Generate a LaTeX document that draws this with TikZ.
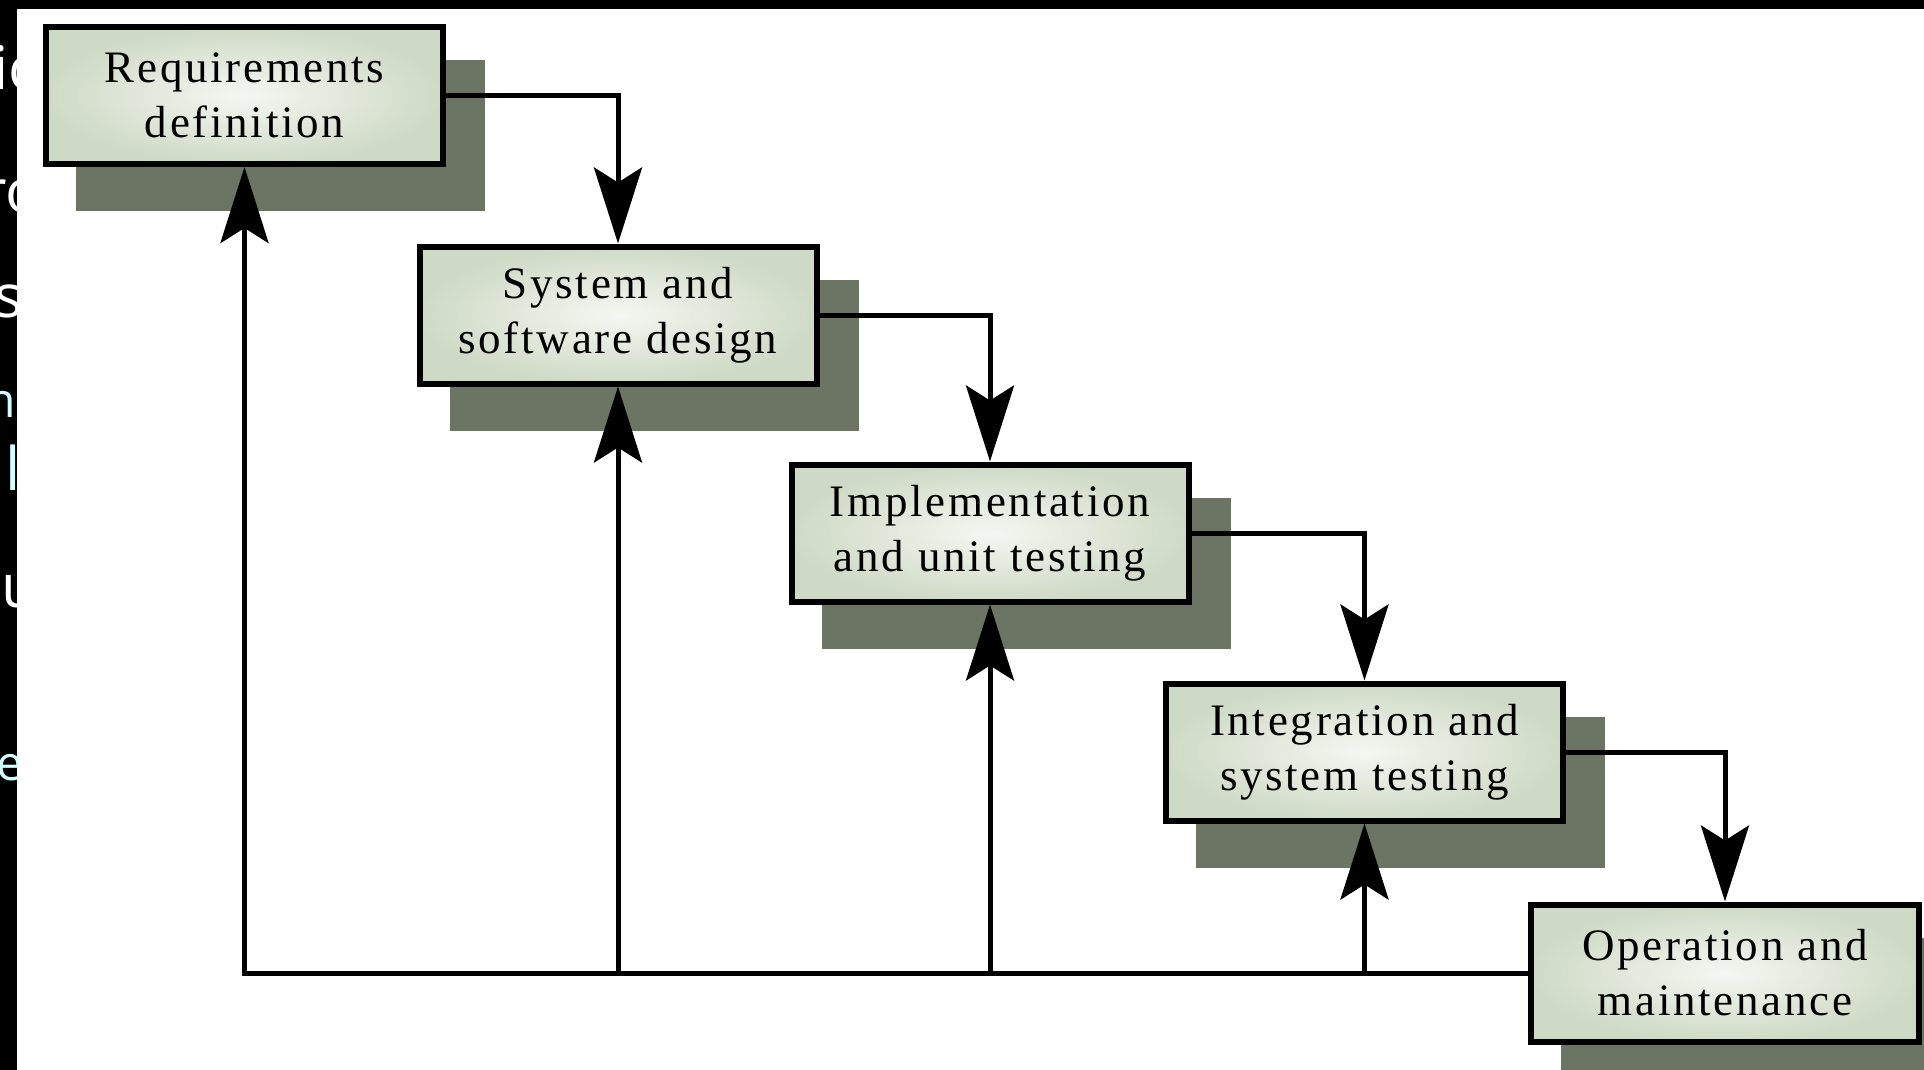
\documentclass[tikz,border=0pt]{standalone}
\usepackage{fontspec}
\setmainfont{Liberation Serif}[LetterSpace=6]
\newfontfamily\stripfont{Open Sans}
\usetikzlibrary{arrows.meta}
\pgfdeclarelayer{bg}
\pgfsetlayers{bg,main}
\definecolor{boxedge}{HTML}{CFDAC6}
\definecolor{boxmid}{HTML}{F5F7F2}
\definecolor{shadowc}{HTML}{6C7563}
\definecolor{slidecyan}{HTML}{CFFFFF}
\tikzset{
  stage/.style={draw=black, line width=3pt, inner sep=0pt,
    minimum width=198.5pt, minimum height=68.5pt, align=center,
    inner color=boxmid, outer color=boxedge,
    font=\fontsize{22.5}{27.5}\selectfont},
  shadowbox/.style={fill=shadowc},
  flow/.style={line width=2.5pt, -{Stealth[length=38pt,width=24pt,inset=7.5pt]}},
  stripwhite/.style={text=white, inner sep=0pt, anchor=base west,
    font=\stripfont\fontsize{30}{30}\selectfont},
  stripcyan/.style={stripwhite, text=slidecyan,
    font=\stripfont\fontsize{24}{24}\selectfont},
}
\begin{document}
\begin{tikzpicture}[x=0.5pt, y=-0.5pt]
\useasboundingbox (0,0) rectangle (1924,1070);
% page background with the dark slide edge on the left and top
\begin{pgfonlayer}{bg}
  \fill[white] (0,0) rectangle (1924,1070);
  \fill[black] (0,0) rectangle (17,1070);
  \fill[black] (0,0) rectangle (1924,9);
\end{pgfonlayer}
% letters of the slide text cut by the left edge
\begin{scope}
  \clip (0,0) rectangle (17,1070);
  \node[stripwhite] (f1) at (-7,90) {ic};
  \node[stripwhite] (f2) at (-18,213) {ro};
  \node[stripwhite] (f3) at (-6,317) {s};
  \node[stripcyan] (f4) at (-14,417) {ne};
  \node[stripcyan, font=\stripfont\fontsize{30}{30}\selectfont] (f5) at (5,490) {l};
  \node[stripwhite] (f6) at (1,607) {u};
  \node[stripcyan] (f7) at (-4,780) {e};
\end{scope}
% the five phases
\node[stage] (b1) at (244.5,95.5) {Requirements\\definition};
\node[stage] (b2) at (618,315) {System and\\software design};
\node[stage] (b3) at (990,533) {Implementation\\and unit testing};
\node[stage] (b4) at (1364.5,752) {Integration and\\system testing};
\node[stage, minimum width=194pt] (b5) at (1725,973) {Operation and\\maintenance};
% offset shadows behind the phases
\begin{pgfonlayer}{bg}
  \foreach \n in {b1,b2,b3,b4,b5}
    \fill[shadowbox] ([shift={(33,36)}]\n.north west) rectangle ([shift={(39,44)}]\n.south east);
\end{pgfonlayer}
% cascade from each phase to the next
\draw[flow] (b1.east) -| (b2.north);
\draw[flow] (b2.east) -| (b3.north);
\draw[flow] (b3.east) -| (b4.north);
\draw[flow] (b4.east) -| (b5.north);
% feedback to the earlier phases
\draw[flow] (b5.west) -| (b1.south);
\foreach \n in {b2,b3,b4}
  \draw[flow] (\n.south |- b5.west) -- (\n.south);
\end{tikzpicture}
\end{document}
